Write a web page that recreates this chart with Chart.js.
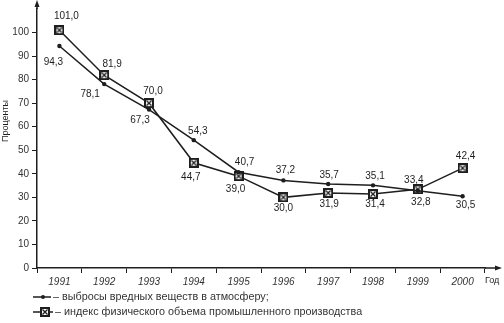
<!DOCTYPE html>
<html>
<head>
<meta charset="utf-8">
<script src="https://cdn.jsdelivr.net/npm/chart.js"></script>
<style>
  html, body { margin: 0; padding: 0; background: #fff; }
</style>
</head>
<body>
<canvas id="chart" width="504" height="323"></canvas>
<script>
const years = ['1991', '1992', '1993', '1994', '1995', '1996', '1997', '1998', '1999', '2000'];
const emissions = [94.3, 78.1, 67.3, 54.3, 40.7, 37.2, 35.7, 35.1, 32.8, 30.5];
const production = [101.0, 81.9, 70.0, 44.7, 39.0, 30.0, 31.9, 31.4, 33.4, 42.4];
const yTicks = [0, 10, 20, 30, 40, 50, 60, 70, 80, 90, 100];
const legendTexts = [
    '– выбросы вредных веществ в атмосферу;',
    '– индекс физического объема промышленного производства'
];

// where each value label sits relative to its point (dx, dy)
const labelOffsets = [
    [[-6, 16], [-14, 10], [-9, 11], [4, -9], [6, -10], [2, -10], [1, -9], [2, -9], [3, 11], [3, 9]],
    [[7, -14], [8, -11], [4, -12], [-3, 14], [-3, 13], [0, 11], [1, 11], [2, 10], [-4, -9], [3, -12]]
];

const ink = '#1e1e1e';
const font = "'Liberation Sans', Arial, sans-serif";

const makeBox = () => {
    const c = document.createElement('canvas');
    c.width = 10; c.height = 10;
    const b = c.getContext('2d');
    b.fillStyle = '#fff';
    b.fillRect(0, 0, 10, 10);
    b.strokeStyle = ink;
    b.lineWidth = 2;
    b.strokeRect(1, 1, 8, 8);
    b.lineWidth = 1.3;
    b.beginPath();
    b.moveTo(2.5, 2.5); b.lineTo(7.5, 7.5);
    b.moveTo(7.5, 2.5); b.lineTo(2.5, 7.5);
    b.stroke();
    return c;
};
const boxMarker = makeBox();

const fmt = v => v.toFixed(1).replace('.', ',');

const valueLabels = {
    id: 'valueLabels',
    afterDatasetsDraw(chart) {
        const ctx = chart.ctx;
        ctx.save();
        ctx.fillStyle = ink;
        ctx.font = `10px ${font}`;
        ctx.textAlign = 'center';
        ctx.textBaseline = 'middle';
        chart.data.datasets.forEach((ds, di) => {
            chart.getDatasetMeta(di).data.forEach((pt, i) => {
                const [dx, dy] = labelOffsets[di][i];
                ctx.fillText(fmt(ds.data[i]), pt.x + dx, pt.y + dy);
            });
        });
        ctx.restore();
    }
};

const extras = {
    id: 'extras',
    afterDraw(chart) {
        const ctx = chart.ctx;
        const area = chart.chartArea;
        ctx.save();
        ctx.strokeStyle = ink;
        ctx.fillStyle = ink;
        ctx.lineWidth = 1.5;
        // y axis arrow
        ctx.beginPath();
        ctx.moveTo(area.left, area.top);
        ctx.lineTo(area.left, 3);
        ctx.stroke();
        ctx.beginPath();
        ctx.moveTo(area.left, 0);
        ctx.lineTo(area.left - 2.5, 7);
        ctx.lineTo(area.left + 2.5, 7);
        ctx.closePath();
        ctx.fill();
        // x axis arrow
        ctx.beginPath();
        ctx.moveTo(area.right, area.bottom);
        ctx.lineTo(498, area.bottom);
        ctx.stroke();
        ctx.beginPath();
        ctx.moveTo(502, area.bottom);
        ctx.lineTo(495, area.bottom - 2.5);
        ctx.lineTo(495, area.bottom + 2.5);
        ctx.closePath();
        ctx.fill();
        // axis unit
        ctx.font = `9px ${font}`;
        ctx.textBaseline = 'middle';
        ctx.textAlign = 'left';
        ctx.fillText('Год', 485, 281);

        // y axis title
        ctx.save();
        ctx.translate(6, 121);
        ctx.rotate(-Math.PI / 2);
        ctx.textAlign = 'center';
        ctx.font = `9px ${font}`;
        ctx.fillText('Проценты', 0, 0);
        ctx.restore();

        // legend
        const rows = [297, 312];
        rows.forEach((y, i) => {
            ctx.lineWidth = 1.5;
            ctx.beginPath();
            ctx.moveTo(33, y);
            ctx.lineTo(i === 0 ? 51 : 53, y);
            ctx.stroke();
            if (i === 0) {
                ctx.beginPath();
                ctx.arc(43, y, 2, 0, Math.PI * 2);
                ctx.fill();
            } else {
                ctx.drawImage(boxMarker, 40, y - 5);
            }
            ctx.font = `10.8px ${font}`;
            ctx.fillStyle = '#333';
            ctx.fillText(legendTexts[i], i === 0 ? 53 : 55, y);
            ctx.fillStyle = ink;
        });
        ctx.restore();
    }
};

new Chart(document.getElementById('chart'), {
    type: 'line',
    data: {
        labels: years,
        datasets: [{
            label: 'выбросы',
            data: emissions,
            borderColor: ink,
            backgroundColor: ink,
            borderWidth: 1.5,
            pointStyle: 'circle',
            pointRadius: 2.2,
            pointBackgroundColor: ink,
            pointBorderWidth: 0,
            tension: 0,
            fill: false
        }, {
            label: 'индекс',
            data: production,
            borderColor: ink,
            backgroundColor: '#fff',
            borderWidth: 1.5,
            pointStyle: boxMarker,
            pointRadius: 5,
            tension: 0,
            fill: false
        }]
    },
    options: {
        responsive: false,
        animation: false,
        layout: { padding: { top: 6, right: 19, bottom: 35, left: 0 } },
        plugins: {
            legend: { display: false },
            tooltip: { enabled: false }
        },
        scales: {
            x: {
                type: 'category',
                offset: true,
                grid: {
                    display: true,
                    drawOnChartArea: false,
                    drawTicks: true,
                    tickLength: 5,
                    offset: true,
                    color: ink,
                    lineWidth: 1
                },
                border: { color: ink, width: 1.5 },
                ticks: {
                    color: '#333',
                    padding: 3,
                    maxRotation: 0,
                    autoSkip: false,
                    font: { size: 10, style: 'italic', family: font }
                },
                afterFit: s => { s.height = 20; }
            },
            y: {
                min: 0,
                max: 110,
                afterBuildTicks: s => {
                    s.ticks = yTicks.map(v => ({ value: v }));
                },
                grid: {
                    drawOnChartArea: false,
                    drawTicks: true,
                    tickLength: 5,
                    color: ink
                },
                border: { color: ink, width: 1.5 },
                ticks: {
                    color: '#333',
                    padding: 3,
                    font: { size: 10, family: font }
                },
                afterFit: s => { s.width = 37; }
            }
        }
    },
    plugins: [valueLabels, extras]
});
</script>
</body>
</html>
